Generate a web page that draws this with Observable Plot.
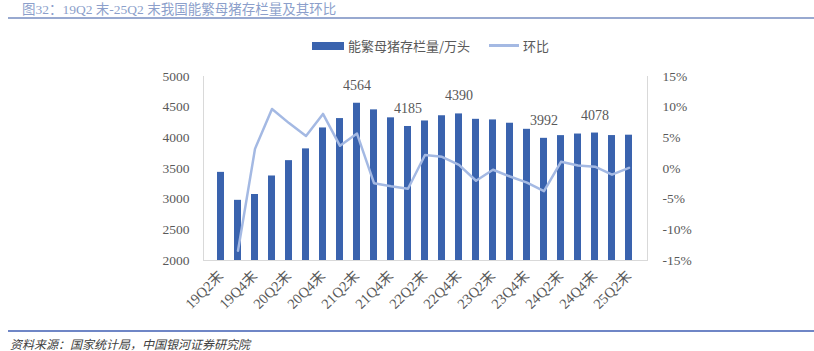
<!DOCTYPE html>
<html><head><meta charset="utf-8">
<script src="https://cdn.jsdelivr.net/npm/d3@7"></script>
<script src="https://cdn.jsdelivr.net/npm/@observablehq/plot@0.6"></script>
<style>
html,body{margin:0;padding:0;background:#fff;}
#wrap{position:relative;width:814px;height:351px;overflow:hidden;}
#title{position:absolute;left:22px;top:3px;line-height:14px;font:13.5px/14px "Liberation Serif","Noto Sans CJK SC",serif;color:#8c9fcb;white-space:nowrap;}
#tline{position:absolute;left:8px;right:0;top:17px;height:2px;background:#98a9d0;}
#bline{position:absolute;left:8px;right:0;top:330px;height:1.5px;background:#6f86c6;}
#source{position:absolute;left:10px;top:335px;font:italic 12px "Noto Sans CJK SC",sans-serif;color:#404040;white-space:nowrap;}
#legend{position:absolute;top:36px;left:312px;font:13px "Noto Sans CJK SC",sans-serif;color:#595959;display:flex;align-items:center;white-space:nowrap;}
.sw1{display:inline-block;width:32px;height:8px;background:#3a63ae;margin-right:4px;}
.sw2{display:inline-block;width:30px;height:2.5px;background:#a4b9e3;margin-left:19px;margin-right:4px;}
#chart{position:absolute;left:0;top:0;}
</style></head>
<body><div id="wrap">
<div id="chart"></div>
<div id="title">图32：19Q2 末-25Q2 末我国能繁母猪存栏量及其环比</div>
<div id="tline"></div>
<div id="legend"><span class="sw1"></span><span>能繁母猪存栏量/万头</span><span class="sw2"></span><span>环比</span></div>
<div id="bline"></div>
<div id="source">资料来源：国家统计局，中国银河证券研究院</div>
</div>
<script>
const quarters = ["19Q2末","19Q3末","19Q4末","20Q1末","20Q2末","20Q3末","20Q4末","21Q1末","21Q2末","21Q3末","21Q4末","22Q1末","22Q2末","22Q3末","22Q4末","23Q1末","23Q2末","23Q3末","23Q4末","24Q1末","24Q2末","24Q3末","24Q4末","25Q1末","25Q2末"];
const stock = [3437,2981,3076,3378,3628,3820,4161,4314,4564,4456,4326,4185,4275,4360,4390,4302,4292,4238,4139,3992,4036,4062,4078,4037,4043];
const qoq = [null,-13.4,3.2,9.7,7.4,5.3,8.9,3.7,5.7,-2.4,-2.9,-3.3,2.2,1.9,0.6,-2.0,-0.2,-1.3,-2.3,-3.7,1.1,0.5,0.3,-1.0,0.1];
const labelled = ["21Q2末","22Q1末","22Q4末","24Q1末","24Q4末"];
const leftTicks = [2000,2500,3000,3500,4000,4500,5000];
const pctTicks = [-15,-10,-5,0,5,10,15];

// right axis (%) shares the left scale: 2000..5000 <-> -15%..15%
const toLeft = p => 3500 + p * 100;
const rows = quarters.map((q, i) => ({q, v: stock[i], p: qoq[i]}));
const lineRows = rows.filter(d => d.p != null);

const chart = Plot.plot({
  width: 814, height: 351,
  marginLeft: 203, marginRight: 167, marginTop: 76, marginBottom: 91,
  style: {fontFamily: "'Liberation Serif','Noto Sans CJK SC',serif", fontSize: "13.5px", color: "#595959", background: "transparent"},
  x: {domain: quarters, paddingInner: 0.58, paddingOuter: 0.29},
  y: {domain: [2000, 5000]},
  marks: [
    Plot.barY(rows, {x: "q", y1: 2000, y2: "v", fill: "#3a63ae"}),
    Plot.frame({anchor: "left", stroke: "#d9d9d9"}),
    Plot.frame({anchor: "right", stroke: "#d9d9d9"}),
    Plot.frame({anchor: "bottom", stroke: "#d9d9d9"}),
    Plot.lineY(lineRows, {x: "q", y: d => toLeft(d.p), stroke: "#a4b9e3", strokeWidth: 2.5}),
    Plot.text(rows.filter(d => labelled.includes(d.q)), {x: "q", y: "v", text: d => String(d.v), dy: -18, fill: "#595959", fontSize: 14}),
    Plot.axisY({ticks: leftTicks, tickSize: 0, tickPadding: 14, label: null, tickFormat: d => String(d)}),
    Plot.axisY({anchor: "right", ticks: pctTicks.map(toLeft), tickSize: 0, tickPadding: 15, label: null, tickFormat: d => Math.round((d - 3500) / 100) + "%"}),
    Plot.axisX({ticks: quarters.filter((d, i) => i % 2 === 0), tickSize: 0, tickRotate: -45, tickPadding: 13, label: null, fontSize: 14.5})
  ]
});
document.getElementById("chart").appendChild(chart);
</script>
</body></html>
